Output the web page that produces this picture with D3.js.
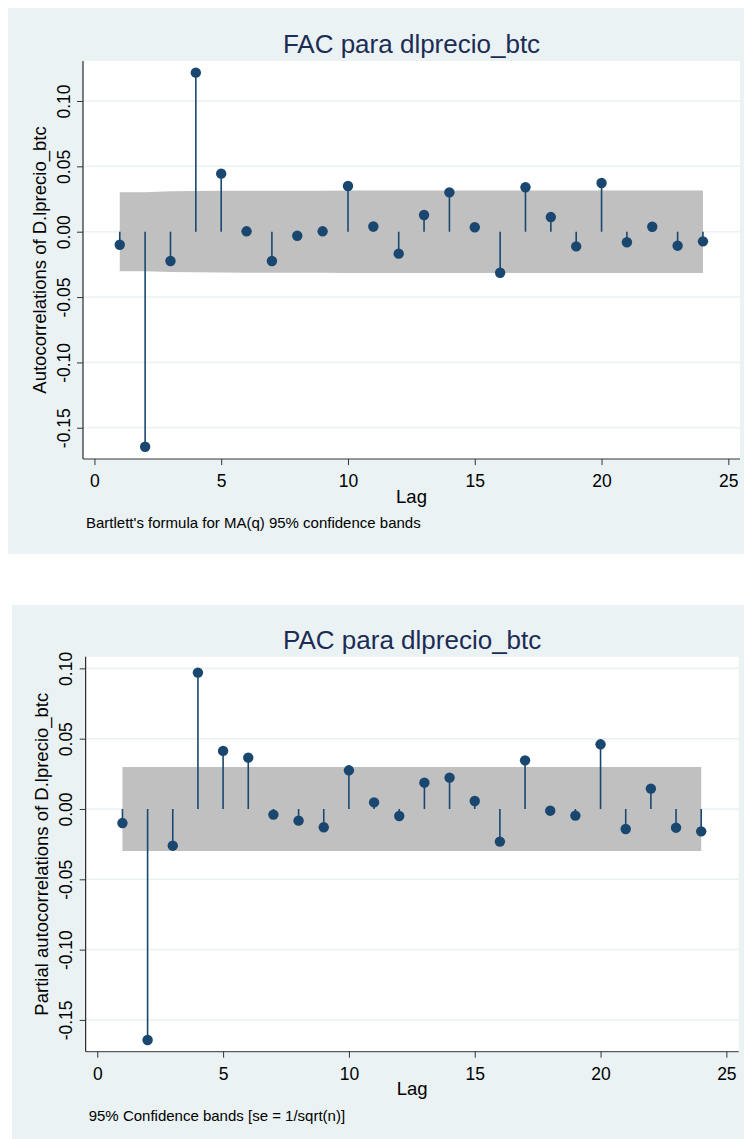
<!DOCTYPE html>
<html>
<head>
<meta charset="utf-8">
<script src="https://cdn.jsdelivr.net/npm/d3@7"></script>
<style>
  body { margin: 0; background: #ffffff; }
  svg { display: block; font-family: "Liberation Sans", Arial, sans-serif; }
</style>
</head>
<body>
<div id="chart"></div>
<script>
// lags shown on both charts
const lags = [1, 2, 3, 4, 5, 6, 7, 8, 9, 10, 11, 12, 13, 14, 15, 16, 17, 18, 19, 20, 21, 22, 23, 24]

// autocorrelations (FAC)
const acfValues = [-0.010, -0.1645, -0.0224, 0.1217, 0.0444, 0.0003, -0.0224, -0.0031, 0.0003, 0.0350,
                   0.0040, -0.0168, 0.0128, 0.0301, 0.0034, -0.0314, 0.0340, 0.0112, -0.0112, 0.0373,
                   -0.0081, 0.0038, -0.0107, -0.0074]
// Bartlett band half-width per lag
const acfBand = [0.0302, 0.0302, 0.0309, 0.0311, 0.0313, 0.0314, 0.0314, 0.0314, 0.0314, 0.0315,
                 0.0315, 0.0315, 0.0315, 0.0315, 0.0315, 0.0315, 0.0316, 0.0316, 0.0316, 0.0316,
                 0.0316, 0.0316, 0.0316, 0.0316]

// partial autocorrelations (PAC)
const pacfValues = [-0.0100, -0.1643, -0.0261, 0.0970, 0.0413, 0.0365, -0.0040, -0.0083, -0.0130, 0.0275,
                    0.0047, -0.0050, 0.0187, 0.0223, 0.0057, -0.0232, 0.0346, -0.0012, -0.0047, 0.0460,
                    -0.0142, 0.0145, -0.0133, -0.0159]
const pacfBand = 0.0299

const xTicks = [0, 5, 10, 15, 20, 25]
const yTicks = [-0.15, -0.10, -0.05, 0.00, 0.05, 0.10]

const svg = d3.select("#chart").append("svg")
    .attr("width", 744)
    .attr("height", 1139)

function drawPanel(cfg){
    const g = svg.append("g")

    // outer panel
    g.append("rect")
        .attr("x", cfg.panel[0]).attr("y", cfg.panel[1])
        .attr("width", cfg.panel[2] - cfg.panel[0])
        .attr("height", cfg.panel[3] - cfg.panel[1])
        .attr("fill", "#eaf2f3")

    const xScale = d3.scaleLinear().domain(cfg.xDomain).range([cfg.plot.left, cfg.plot.right])
    const yScale = d3.scaleLinear().domain(cfg.yDomain).range([cfg.plot.bottom, cfg.plot.top])

    // plot region
    g.append("rect")
        .attr("x", cfg.plot.left).attr("y", cfg.plot.top)
        .attr("width", cfg.plot.right - cfg.plot.left)
        .attr("height", cfg.plot.bottom - cfg.plot.top)
        .attr("fill", "#ffffff")

    // gridlines
    g.selectAll(".grid").data(yTicks).enter().append("line")
        .attr("x1", cfg.plot.left).attr("x2", cfg.plot.right)
        .attr("y1", d => yScale(d)).attr("y2", d => yScale(d))
        .attr("stroke", "#eaf2f3").attr("stroke-width", 1.5)

    // confidence band
    const bandData = lags.map((l, i) => ({lag: l, se: cfg.band[i]}))
    g.append("path")
        .datum(bandData)
        .attr("d", d3.area()
            .x(d => xScale(d.lag))
            .y0(d => yScale(-d.se))
            .y1(d => yScale(d.se)))
        .attr("fill", "#c0c0c0")

    // axes
    const yAxis = d3.axisLeft(yScale).tickValues(yTicks).tickSize(6).tickFormat(d3.format(".2f"))
    const yG = g.append("g").attr("transform", `translate(${cfg.plot.left},0)`).call(yAxis)
    yG.select(".domain").attr("d", `M0,${cfg.plot.top}V${cfg.plot.bottom}`).attr("stroke", "#000")
    yG.selectAll(".tick line").attr("stroke", "#333")
    yG.selectAll(".tick text")
        .attr("x", null).attr("dy", null)
        .attr("transform", "translate(-13.5,0) rotate(-90)")
        .attr("text-anchor", "middle")
        .attr("font-size", 17.5)
        .attr("fill", "#000")
        .text(d => d3.format(".2f")(d).replace("−", "-"))

    const xAxis = d3.axisBottom(xScale).tickValues(xTicks).tickSize(6)
    const xG = g.append("g").attr("transform", `translate(0,${cfg.plot.bottom})`).call(xAxis)
    xG.select(".domain").attr("d", `M${cfg.plot.left},0H${cfg.plot.right}`).attr("stroke", "#333")
    xG.selectAll(".tick line").attr("stroke", "#333")
    xG.selectAll(".tick text")
        .attr("y", 28).attr("dy", null)
        .attr("font-size", 17.5)
        .attr("fill", "#000")

    // stems and markers
    const pts = lags.map((l, i) => ({lag: l, v: cfg.values[i]}))
    g.selectAll(".stem").data(pts).enter().append("line")
        .attr("x1", d => xScale(d.lag)).attr("x2", d => xScale(d.lag))
        .attr("y1", yScale(0)).attr("y2", d => yScale(d.v))
        .attr("stroke", "#1a476f").attr("stroke-width", 1.6)
    g.selectAll(".dot").data(pts).enter().append("circle")
        .attr("cx", d => xScale(d.lag)).attr("cy", d => yScale(d.v))
        .attr("r", 5.2)
        .attr("fill", "#1a476f")

    // texts
    const midX = (cfg.plot.left + cfg.plot.right) / 2
    const midY = (cfg.plot.top + cfg.plot.bottom) / 2
    g.append("text")
        .attr("x", midX).attr("y", cfg.plot.top - 8)
        .attr("text-anchor", "middle")
        .attr("font-size", 26)
        .attr("fill", "#1c2c55")
        .text(cfg.title)
    g.append("text")
        .attr("transform", `translate(${cfg.plot.left - 37.5},${midY}) rotate(-90)`)
        .attr("text-anchor", "middle")
        .attr("font-size", 18.5)
        .attr("fill", "#000")
        .text(cfg.yTitle)
    g.append("text")
        .attr("x", midX).attr("y", cfg.plot.bottom + 43.5)
        .attr("text-anchor", "middle")
        .attr("font-size", 18.5)
        .attr("fill", "#000")
        .text("Lag")
    g.append("text")
        .attr("x", cfg.plot.left + 3).attr("y", cfg.plot.bottom + 69)
        .attr("font-size", 15)
        .attr("fill", "#000")
        .text(cfg.note)
}

drawPanel({
    panel: [8, 8, 744, 554],
    plot: {left: 83, right: 740, top: 61, bottom: 459},
    xDomain: [-0.45, 25.46],
    yDomain: [-0.1739, 0.1306],
    values: acfValues,
    band: acfBand,
    title: "FAC para dlprecio_btc",
    yTitle: "Autocorrelations of D.lprecio_btc",
    note: "Bartlett's formula for MA(q) 95% confidence bands"
})

drawPanel({
    panel: [12, 605, 744, 1139],
    plot: {left: 85.7, right: 738.7, top: 656.7, bottom: 1051.7},
    xDomain: [-0.46, 25.49],
    yDomain: [-0.1726, 0.1083],
    values: pacfValues,
    band: lags.map(() => pacfBand),
    title: "PAC para dlprecio_btc",
    yTitle: "Partial autocorrelations of D.lprecio_btc",
    note: "95% Confidence bands [se = 1/sqrt(n)]"
})
</script>
</body>
</html>
